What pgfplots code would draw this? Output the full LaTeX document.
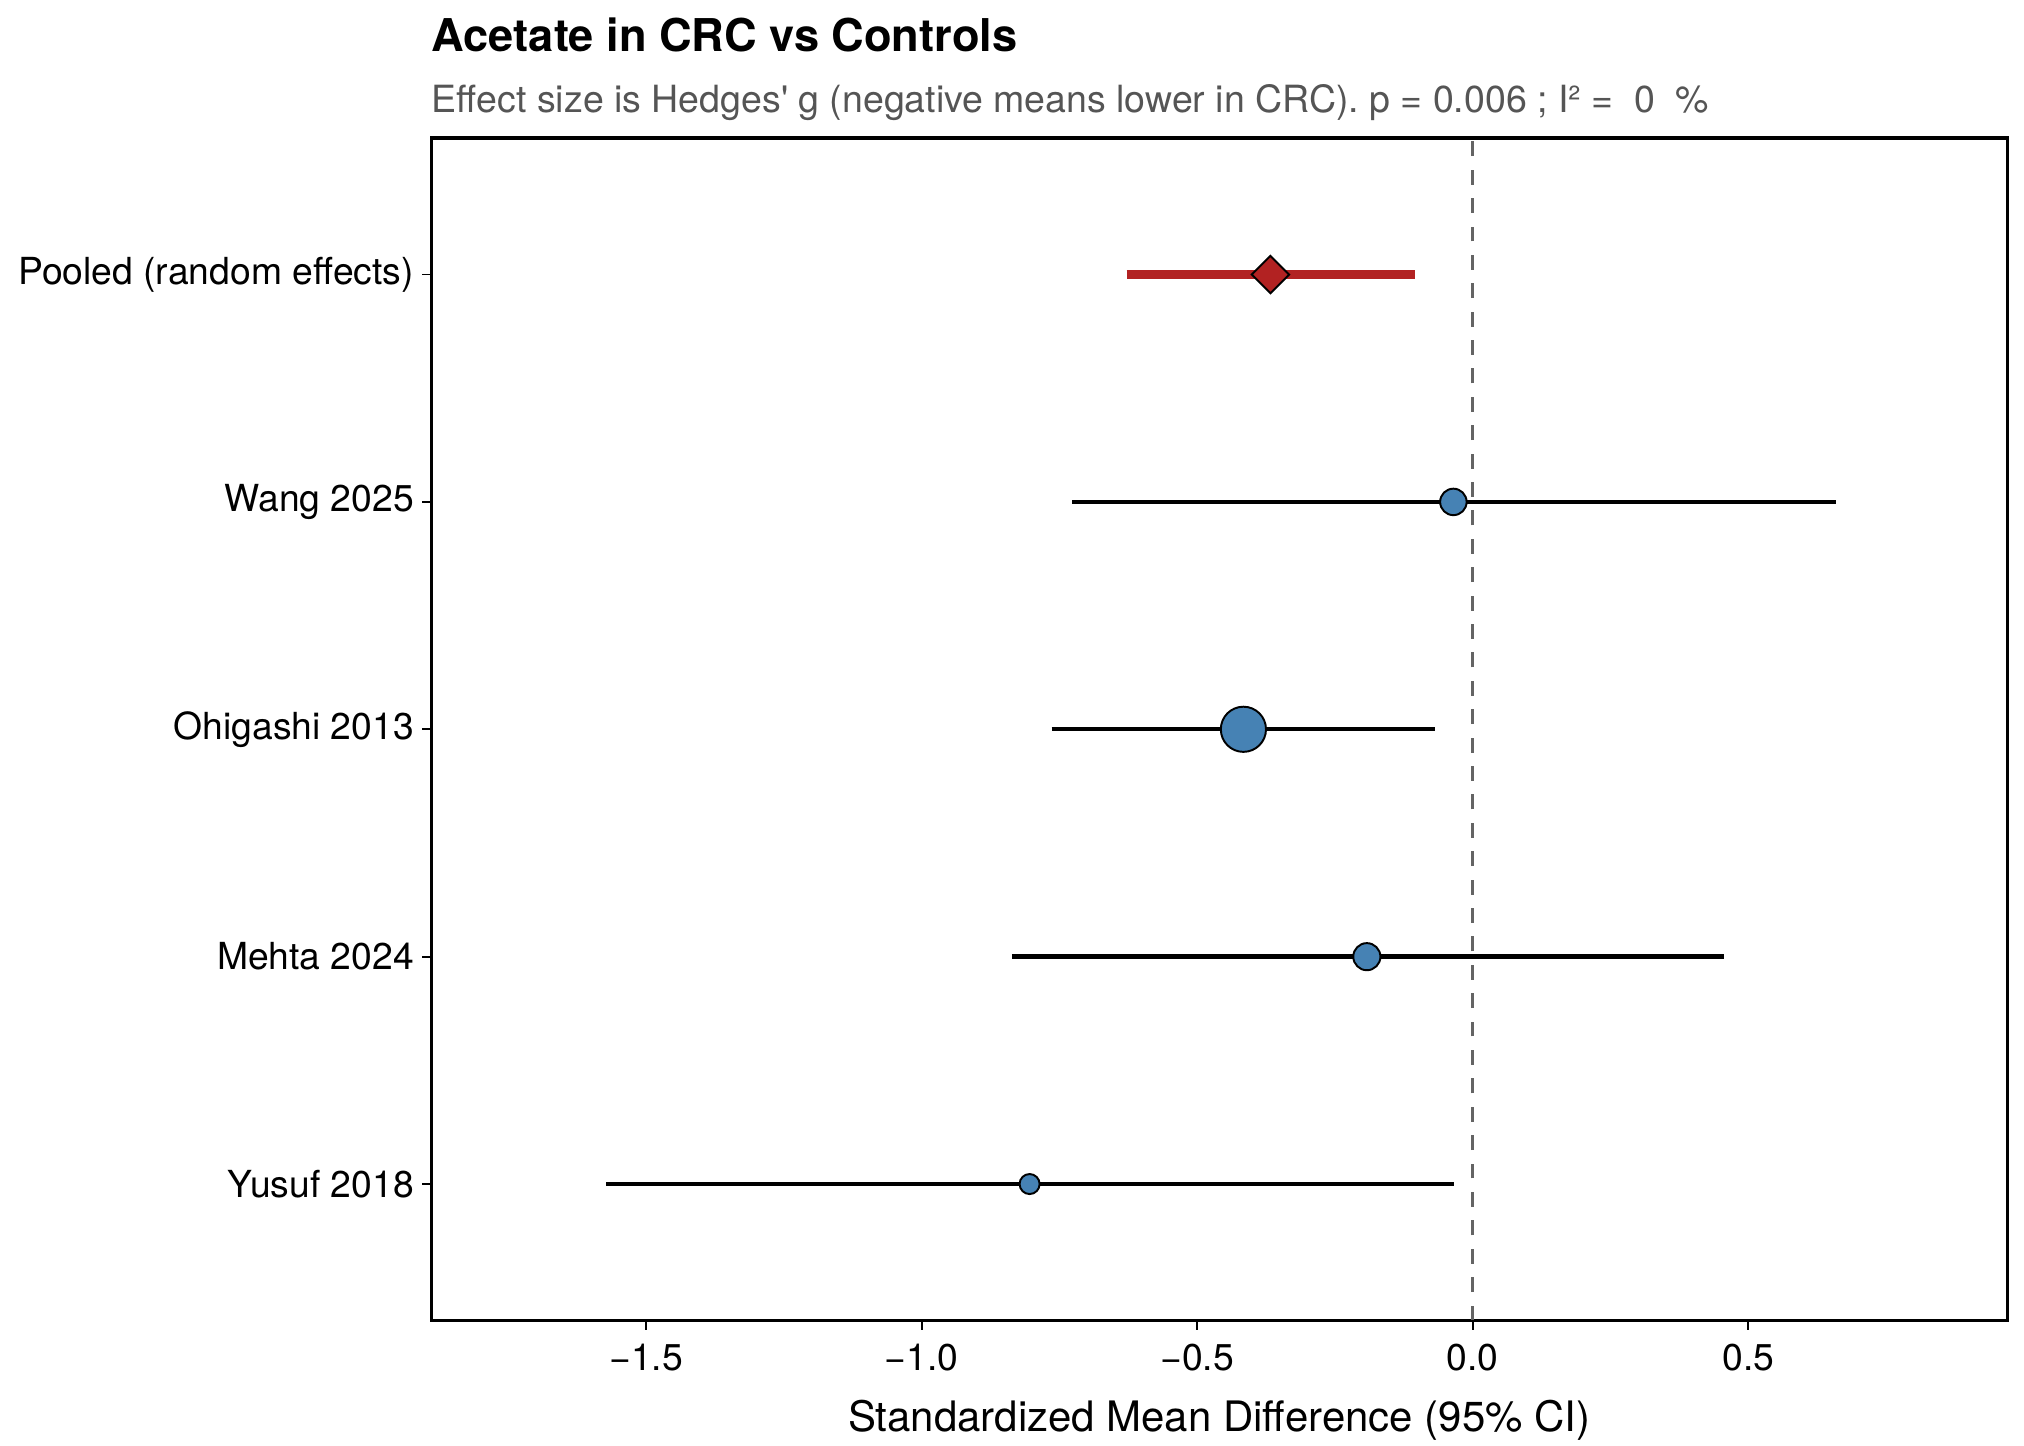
\documentclass[border=0pt]{standalone}
\usepackage{pgfplots}
\pgfplotsset{compat=1.18}
\usepackage{fontspec}
\setmainfont{TeX Gyre Heros}
\definecolor{steel}{HTML}{4682B4}
\definecolor{fire}{HTML}{B22222}
\definecolor{subgray}{HTML}{555555}
\begin{document}
\begin{tikzpicture}
\begin{axis}[
  scale only axis,
  width=488.4pt, height=366.4pt,
  xmin=-1.89, xmax=0.97,
  ymin=0.4, ymax=5.6,
  axis line style={line width=1pt},
  xtick={-1.5,-1,-0.5,0,0.5},
  xticklabels={−1.5,−1.0,−0.5,0.0,0.5},
  ytick={1,2,3,4,5},
  yticklabels={Yusuf 2018,Mehta 2024,Ohigashi 2013,Wang 2025,Pooled (random effects)},
  tick align=outside,
  tick pos=left,
  major tick length=2.8pt,
  tick style={line width=0.6pt, black},
  ticklabel style={font=\fontsize{11.55}{13}\selectfont, text=black},
  xticklabel style={yshift=-1pt},
  yticklabel style={xshift=1pt},
  xlabel={Standardized Mean Difference (95\% CI)},
  xlabel style={font=\fontsize{13}{15}\selectfont, yshift=-2pt},
  clip=false,
]
% reference line
\addplot[color={rgb,255:red,100;green,100;blue,100}, line width=0.85pt, dash pattern=on 4.6pt off 4.2pt] coordinates {(0,0.4) (0,5.6)};
% confidence intervals
\addplot[fire, line width=2.6pt] coordinates {(-0.628,5) (-0.105,5)};
\addplot[black, line width=1.35pt] coordinates {(-0.727,4) (0.659,4)};
\addplot[black, line width=1.35pt] coordinates {(-0.764,3) (-0.068,3)};
\addplot[black, line width=1.35pt] coordinates {(-0.836,2) (0.456,2)};
\addplot[black, line width=1.35pt] coordinates {(-1.572,1) (-0.033,1)};
% point estimates
\addplot[only marks, mark=square*, mark size=4.1pt, mark options={rotate=45, fill=fire, draw=black, line width=0.6pt}] coordinates {(-0.367,5)};
\addplot[only marks, mark=*, mark size=4.1pt, mark options={fill=steel, draw=black, line width=0.6pt}] coordinates {(-0.035,4)};
\addplot[only marks, mark=*, mark size=7.0pt, mark options={fill=steel, draw=black, line width=0.6pt}] coordinates {(-0.416,3)};
\addplot[only marks, mark=*, mark size=4.2pt, mark options={fill=steel, draw=black, line width=0.6pt}] coordinates {(-0.192,2)};
\addplot[only marks, mark=*, mark size=3.1pt, mark options={fill=steel, draw=black, line width=0.6pt}] coordinates {(-0.804,1)};
\coordinate (sw) at (rel axis cs:0,0);
\coordinate (ne) at (rel axis cs:1,1);
\node[anchor=base west, inner sep=0pt, font=\fontsize{14}{16}\selectfont\bfseries] at ([yshift=26.8pt]rel axis cs:0,1) {Acetate in CRC vs Controls};
\node[anchor=base west, inner sep=0pt, font=\fontsize{11.62}{13}\selectfont, text=subgray] at ([yshift=8pt]rel axis cs:0,1) {Effect size is Hedges\textquotesingle\ g (negative means lower in CRC). p = 0.006 ; I² =\ \ 0\ \ \%};
\end{axis}
\pgfresetboundingbox
\path[use as bounding box] ([xshift=-133.6pt,yshift=-38.8pt]sw) rectangle ([xshift=5.2pt,yshift=42.8pt]ne);
\end{tikzpicture}
\end{document}
